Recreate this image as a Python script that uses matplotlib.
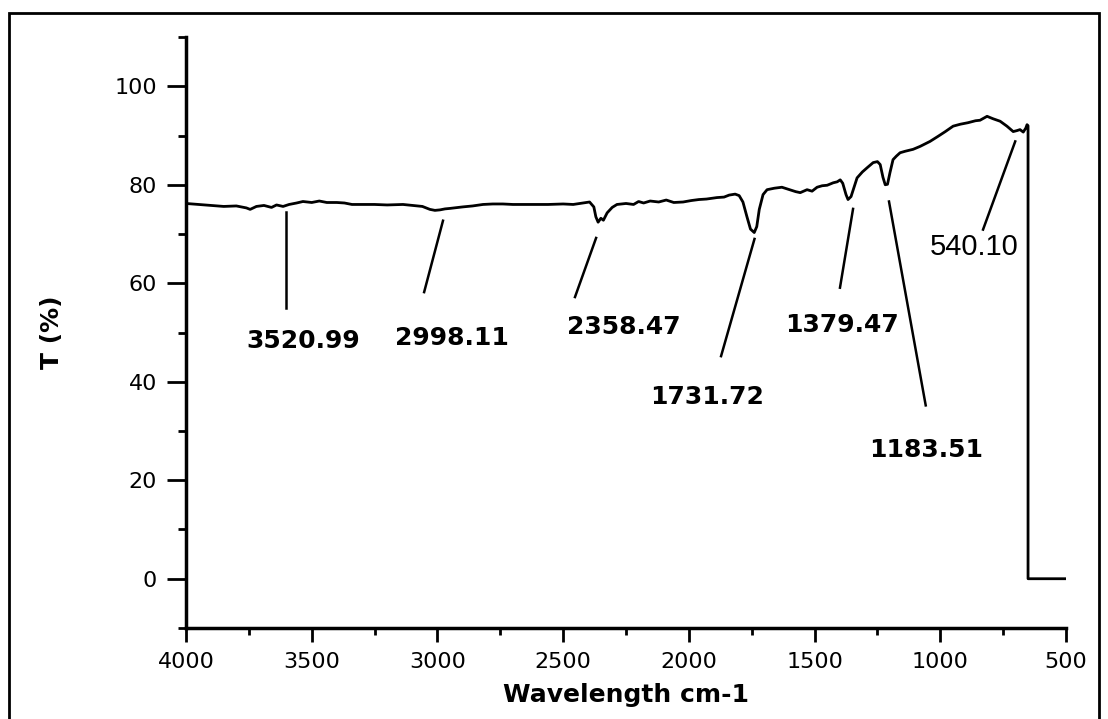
import matplotlib
matplotlib.use('Agg')
import matplotlib.pyplot as plt
from matplotlib.patches import Rectangle
from matplotlib.ticker import MultipleLocator

# Данные спектра (волновое число, пропускание)
wn = [4000, 3950, 3900, 3850, 3800, 3760, 3745, 3720, 3690, 3660, 3640, 3614, 3590, 3560,
      3535, 3500, 3470, 3440, 3400, 3370, 3340, 3296, 3250, 3200, 3137, 3100, 3060, 3030,
      3010, 2990, 2970, 2950, 2900, 2860, 2819, 2780, 2740, 2700, 2660, 2620, 2560, 2500,
      2460, 2421, 2395, 2378, 2370, 2361, 2350, 2340, 2325, 2305, 2286, 2250, 2220, 2200,
      2180, 2154, 2120, 2090, 2060, 2023, 1990, 1960, 1930, 1900, 1888, 1860, 1840, 1816,
      1800, 1785, 1769, 1755, 1740, 1730, 1720, 1705, 1689, 1660, 1630, 1600, 1575, 1557,
      1530, 1510, 1490, 1470, 1450, 1426, 1410, 1398, 1388, 1375, 1367, 1355, 1340, 1331,
      1310, 1290, 1267, 1250, 1239, 1228, 1219, 1210, 1200, 1188, 1175, 1160, 1140, 1108,
      1080, 1041, 1010, 980, 949, 920, 890, 860, 842, 814, 790, 762, 735, 710, 695, 683,
      670, 660, 655, 651, 651, 500]
T = [76.2, 76.0, 75.8, 75.6, 75.7, 75.3, 75.0, 75.6, 75.8, 75.4, 75.9, 75.6, 76.0, 76.3,
     76.6, 76.4, 76.7, 76.4, 76.4, 76.3, 76.0, 76.0, 76.0, 75.9, 76.0, 75.8, 75.6, 75.0,
     74.8, 74.9, 75.1, 75.2, 75.5, 75.7, 76.0, 76.1, 76.1, 76.0, 76.0, 76.0, 76.0, 76.1,
     76.0, 76.3, 76.5, 75.5, 73.5, 72.4, 73.2, 72.8, 74.3, 75.4, 76.0, 76.2, 76.0, 76.6,
     76.3, 76.7, 76.5, 76.9, 76.4, 76.5, 76.8, 77.0, 77.1, 77.3, 77.4, 77.5, 77.9, 78.1,
     77.8, 76.5, 73.5, 71.0, 70.3, 71.5, 75.0, 78.0, 79.0, 79.3, 79.5, 79.0, 78.6, 78.4,
     79.0, 78.7, 79.5, 79.8, 79.9, 80.4, 80.6, 81.0, 80.3, 78.0, 77.0, 77.6, 80.0, 81.4,
     82.6, 83.5, 84.5, 84.7, 84.1, 81.5, 80.0, 80.1, 82.5, 85.1, 85.8, 86.5, 86.8, 87.2,
     87.8, 88.8, 89.8, 90.8, 91.9, 92.3, 92.6, 93.0, 93.1, 93.9, 93.4, 92.9, 91.9, 90.8,
     91.0, 91.2, 90.7, 91.5, 92.2, 92.0, 0.0, 0.0]

# Подписи пиков: текст, позиция текста, начало и конец выносной линии
peak_labels = ['3520.99', '2998.11', '2358.47', '1731.72', '1379.47', '1183.51', '540.10']
label_x = [3534, 2942, 2258, 1928, 1390, 1057, 866]
label_y = [48.3, 48.9, 51.1, 36.9, 51.5, 26.1, 67.4]
line_x0 = [3602, 2978, 2369, 1739, 1347, 1204, 702]
line_y0 = [74.5, 72.7, 69.2, 69.0, 75.1, 76.6, 88.8]
line_x1 = [3602, 3053, 2453, 1872, 1399, 1058, 830]
line_y1 = [55.0, 58.2, 57.2, 45.2, 59.1, 35.2, 70.9]

fig = plt.figure(figsize=(11.08, 7.19), dpi=100)
ax = fig.add_axes([0.1679, 0.1266, 0.7942, 0.8219])

# рамка вокруг всего рисунка
fig.patches.append(Rectangle((9 / 1108, -0.01), 1090 / 1108, 1 - 13 / 719 + 0.01,
                             transform=fig.transFigure, fill=False, lw=2, ec='black'))

ax.plot(wn, T, color='black', lw=2)

for i in range(len(peak_labels)):
    ax.plot([line_x0[i], line_x1[i]], [line_y0[i], line_y1[i]], color='black', lw=1.8)
    if peak_labels[i] == '540.10':
        ax.text(label_x[i], label_y[i], peak_labels[i], ha='center', va='center',
                fontsize=21, family='Liberation Sans')
    else:
        ax.text(label_x[i], label_y[i], peak_labels[i], ha='center', va='center',
                fontsize=18, fontweight='bold')

ax.set_xlim(4000, 500)
ax.set_ylim(-10, 110)
ax.xaxis.set_major_locator(MultipleLocator(500))
ax.xaxis.set_minor_locator(MultipleLocator(250))
ax.yaxis.set_major_locator(MultipleLocator(20))
ax.yaxis.set_minor_locator(MultipleLocator(10))
ax.set_yticks([0, 20, 40, 60, 80, 100])

ax.spines['top'].set_visible(False)
ax.spines['right'].set_visible(False)
ax.spines['left'].set_linewidth(2.5)
ax.spines['bottom'].set_linewidth(2.5)
ax.tick_params(which='major', length=10, width=2, labelsize=16, pad=7)
ax.tick_params(which='minor', length=5, width=2)
ax.tick_params(axis='y', which='major', length=14)
ax.tick_params(axis='y', which='minor', length=6)

ax.set_xlabel('Wavelength cm-1', fontsize=18, fontweight='bold', labelpad=8)
ax.set_ylabel('T (%)', fontsize=18, fontweight='bold', labelpad=36)

fig.savefig('out.png', dpi=100)
